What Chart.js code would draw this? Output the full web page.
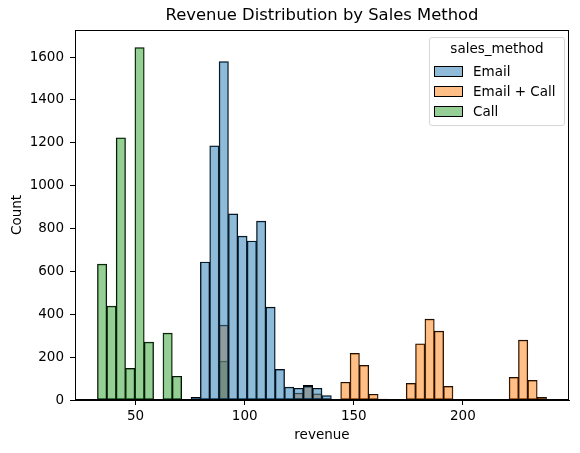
<!DOCTYPE html>
<html>
<head>
<meta charset="utf-8">
<script src="https://cdn.jsdelivr.net/npm/chart.js@4/dist/chart.umd.min.js"></script>
<style>
  body { margin: 0; background: #fff; overflow: hidden; }
  #wrap { position: relative; width: 580px; height: 453px; font-family: 'DejaVu Sans', sans-serif; }
  #hist { display: block; }
  #legend {
    position: absolute; left: 429px; top: 37px; width: 134px; height: 87px;
    border: 1px solid #d6d6d6; border-radius: 3px; background: rgba(255,255,255,0.8);
    font-size: 13.5px; color: #000;
  }
  #legend .ttl { position: absolute; left: 0; right: 0; top: 2px; text-align: center; }
  #legend .row { position: absolute; left: 4px; height: 18px; line-height: 18px; }
  #legend .sw { position: absolute; left: 0; top: 4px; width: 27px; height: 9px; border: 1px solid #000; }
  #legend .lbl { position: absolute; left: 39px; top: 0; white-space: nowrap; }
</style>
</head>
<body>
<div id="wrap">
  <canvas id="hist" width="580" height="453"></canvas>
  <div id="legend"></div>
</div>
<script>
// ── histogram data (48 equal bins over revenue) ──
const binStart = 32.54;
const binEnd = 238.32;
const binCount = 48;

const seriesNames = ['Email', 'Email + Call', 'Call'];

const emailCounts = [
  0, 0, 0, 0, 0, 0, 0, 0, 0, 0,
  12, 644, 1186, 1579, 868, 765, 742, 835, 433, 143,
  60, 55, 64, 55, 21, 2, 0, 0, 0, 0,
  0, 0, 0, 0, 0, 0, 0, 0, 0, 0,
  0, 0, 0, 0, 0, 0, 0, 0
];
const emailCallCounts = [
  0, 0, 0, 0, 0, 0, 0, 0, 0, 0,
  0, 0, 0, 349, 0, 0, 0, 0, 0, 0,
  2, 32, 68, 29, 0, 3, 83, 218, 162, 27,
  4, 0, 0, 78, 262, 377, 321, 64, 3, 0,
  0, 0, 0, 0, 106, 279, 92, 13
];
const callCounts = [
  634, 438, 1223, 148, 1644, 270, 0, 312, 111, 0,
  0, 0, 0, 181, 0, 0, 0, 0, 0, 0,
  0, 0, 0, 0, 0, 0, 0, 0, 0, 0,
  0, 0, 0, 0, 0, 0, 0, 0, 0, 0,
  0, 0, 0, 0, 0, 0, 0, 0
];

const xTicks = [50, 100, 150, 200];
const yTicks = [0, 200, 400, 600, 800, 1000, 1200, 1400, 1600];

const chartTitle = 'Revenue Distribution by Sales Method';
const seriesColors = ['rgba(31,119,180,0.5)', 'rgba(255,127,14,0.5)', 'rgba(44,160,44,0.5)'];

// ── build ──
const binWidth = (binEnd - binStart) / binCount;
const span = binEnd - binStart;
const xMin = binStart - span * 0.05;
const xMax = binEnd + span * 0.05;
const yMax = Math.max(...emailCounts, ...emailCallCounts, ...callCounts) * 1.05;

function toPoints(counts) {
  return counts.map((c, i) => ({ x: binStart + (i + 0.5) * binWidth, y: c }));
}

const allCounts = [emailCounts, emailCallCounts, callCounts];

Chart.defaults.font.family = "'DejaVu Sans', sans-serif";
Chart.defaults.font.size = 13.5;
Chart.defaults.color = '#000';

// matplotlib-like box around the axes + title centred over the axes
const framePlugin = {
  id: 'frame',
  afterDraw(chart) {
    const { ctx, chartArea: a } = chart;
    const l = Math.round(a.left), r = Math.round(a.right);
    const t = Math.round(a.top), b = Math.round(a.bottom);
    ctx.save();
    ctx.fillStyle = '#000';
    ctx.fillRect(l, t, r - l, 1);
    ctx.fillRect(r - 1, t, 1, b - t);
    ctx.fillRect(l, t, 1, b - t);
    ctx.fillRect(l, b - 1, r - l, 1);

    ctx.font = "16.4px 'DejaVu Sans', sans-serif";
    ctx.textAlign = 'center';
    ctx.textBaseline = 'middle';
    ctx.fillText(chartTitle, (a.left + a.right) / 2, 15.3);
    ctx.restore();
  }
};

new Chart(document.getElementById('hist'), {
  type: 'bar',
  data: {
    datasets: seriesNames.map((name, k) => ({
      label: name,
      data: toPoints(allCounts[k]),
      backgroundColor: seriesColors[k],
      borderColor: '#000',
      borderWidth: 0.8,
      borderSkipped: false,
      grouped: false,
      barPercentage: 1,
      categoryPercentage: 1
    }))
  },
  options: {
    responsive: false,
    animation: false,
    layout: { padding: { left: 0, right: 11, top: 30, bottom: 0 } },
    plugins: {
      legend: { display: false },
      tooltip: { enabled: false },
      title: { display: false }
    },
    scales: {
      x: {
        type: 'linear',
        min: xMin,
        max: xMax,
        offset: false,
        afterBuildTicks: s => { s.ticks = xTicks.map(v => ({ value: v })); },
        afterFit: s => { s.height = 53; },
        ticks: { padding: 3.5, callback: v => String(v) },
        grid: { drawOnChartArea: false, drawTicks: true, tickLength: 5, color: '#000', offset: false },
        border: { display: true, color: '#000', width: 1 },
        title: { display: true, text: 'revenue', padding: { top: 0, bottom: 9.9 } }
      },
      y: {
        min: 0,
        max: yMax,
        afterBuildTicks: s => { s.ticks = yTicks.map(v => ({ value: v })); },
        afterFit: s => { s.width = 75; },
        ticks: { padding: 6, callback: v => String(v) },
        grid: { drawOnChartArea: false, drawTicks: true, tickLength: 5, color: '#000' },
        border: { display: true, color: '#000', width: 1 },
        title: { display: true, text: 'Count', padding: { top: 8.9, bottom: 0 } }
      }
    }
  },
  plugins: [framePlugin]
});

// legend box (top right, like seaborn's)
const legend = document.getElementById('legend');
legend.innerHTML = '<div class="ttl">sales_method</div>' + seriesNames.map((name, k) =>
  `<div class="row" style="top:${24 + k * 20}px">
     <div class="sw" style="background:${seriesColors[k]}"></div>
     <div class="lbl">${name}</div>
   </div>`).join('');
</script>
</body>
</html>
